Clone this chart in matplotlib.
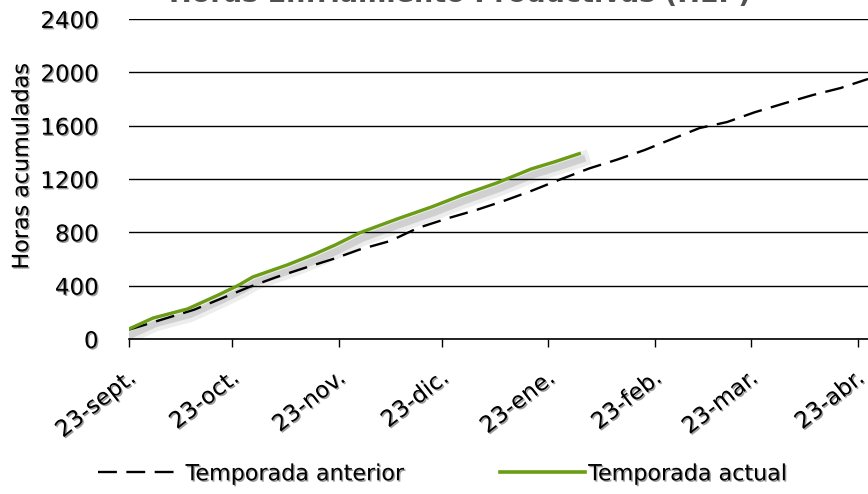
import matplotlib
matplotlib.use("Agg")
import matplotlib.pyplot as plt
import matplotlib.patheffects as pe
import matplotlib.transforms as mtransforms
import pandas as pd

# Temporada anterior (HEP acumuladas)
fechas_anterior = ["2012-09-23", "2012-10-12", "2012-10-28", "2012-11-05", "2012-11-13",
                   "2012-11-22", "2012-11-29", "2012-12-08", "2012-12-16", "2012-12-25",
                   "2013-01-02", "2013-01-10", "2013-01-18", "2013-01-26", "2013-02-04",
                   "2013-02-12", "2013-02-20", "2013-02-28", "2013-03-08", "2013-03-16",
                   "2013-03-24", "2013-04-02", "2013-04-10", "2013-04-18", "2013-04-26"]
horas_anterior = [70, 220, 390, 465, 532, 605, 670, 735, 832, 907,
                  967, 1035, 1110, 1192, 1280, 1345, 1417, 1500, 1582, 1627,
                  1700, 1770, 1830, 1882, 1950]

# Temporada actual
fechas_actual = ["2012-09-23", "2012-09-30", "2012-10-10", "2012-10-19", "2012-10-25",
                 "2012-10-29", "2012-11-08", "2012-11-16", "2012-11-22", "2012-11-29",
                 "2012-12-10", "2012-12-20", "2012-12-29", "2013-01-08", "2013-01-18",
                 "2013-01-25", "2013-02-01"]
horas_actual = [75, 157, 225, 330, 405, 465, 555, 637, 705, 795,
                900, 990, 1080, 1170, 1275, 1330, 1390]

ticks_fechas = ["2012-09-23", "2012-10-23", "2012-11-23", "2012-12-23",
                "2013-01-23", "2013-02-23", "2013-03-23", "2013-04-23"]
ticks_labels = ["23-sept.", "23-oct.", "23-nov.", "23-dic.",
                "23-ene.", "23-feb.", "23-mar.", "23-abr."]
y_ticks = [0, 400, 800, 1200, 1600, 2000, 2400]

x_ini, x_fin = "2012-09-23", "2013-04-26"
verde = "#6A9C14"

sombra_txt = [pe.SimplePatchShadow(offset=(1, -1), shadow_rgbFace="0.45", alpha=0.7), pe.Normal()]

fig = plt.figure(figsize=(8.68, 4.94), dpi=100)
ax = fig.add_axes([0.1486, 0.3138, 0.8514, 0.6478])

xa = pd.to_datetime(fechas_anterior)
xc = pd.to_datetime(fechas_actual)

ax.plot(xa, horas_anterior, color="black", lw=1.7, linestyle=(0, (8, 4)), zorder=3)
ax.plot(xc, horas_actual, color=verde, lw=2.4, zorder=4,
        path_effects=[pe.SimpleLineShadow(offset=(2, -4), shadow_color="black", alpha=0.07, linewidth=11),
                      pe.SimpleLineShadow(offset=(2, -4), shadow_color="black", alpha=0.12, linewidth=5),
                      pe.Normal()])

ax.set_ylim(0, 2400)
ax.set_xlim(pd.Timestamp(x_ini), pd.Timestamp(x_fin))
ax.set_yticks(y_ticks)
ax.set_yticklabels([str(v) for v in y_ticks])
ax.tick_params(axis="y", length=0, pad=22, labelsize=16.5)
ax.grid(axis="y", color="black", lw=1)
ax.set_axisbelow(True)

ax.set_xticks(pd.to_datetime(ticks_fechas))
ax.set_xticklabels(ticks_labels)
ax.tick_params(axis="x", length=6, width=1, pad=20, labelsize=16.5)
offset = mtransforms.ScaledTranslation(0.04, 0, fig.dpi_scale_trans)
for lab in ax.get_xticklabels():
    lab.set_rotation(38)
    lab.set_rotation_mode("anchor")
    lab.set_ha("right")
    lab.set_va("center")
    lab.set_transform(lab.get_transform() + offset)
    lab.set_path_effects(sombra_txt)
for lab in ax.get_yticklabels():
    lab.set_path_effects(sombra_txt)

for s in ["left", "right", "top"]:
    ax.spines[s].set_visible(False)
ax.spines["bottom"].set_linewidth(1.2)

fig.text(22 / 868, 1 - 166 / 494, "Horas acumuladas", rotation=90, va="center", ha="center",
         fontsize=16, path_effects=sombra_txt)

fig.text(460 / 868, 1 - 2 / 494, "Horas Enfriamiento Productivas (HEP)", ha="center",
         va="baseline", fontsize=19.5, fontweight="bold", color="#505050")

h1, = ax.plot([], [], color="black", lw=1.7, linestyle=(0, (8, 4)))
h2, = ax.plot([], [], color=verde, lw=2.6)
leg = fig.legend([h1, h2], ["Temporada anterior", "Temporada actual"], loc="center",
                 bbox_to_anchor=(0.51, 0.04), ncol=2, frameon=False,
                 fontsize=16, handlelength=3.8, handletextpad=0.15, columnspacing=4.3)
for t in leg.get_texts():
    t.set_path_effects(sombra_txt)

fig.savefig("out.png", dpi=100)
